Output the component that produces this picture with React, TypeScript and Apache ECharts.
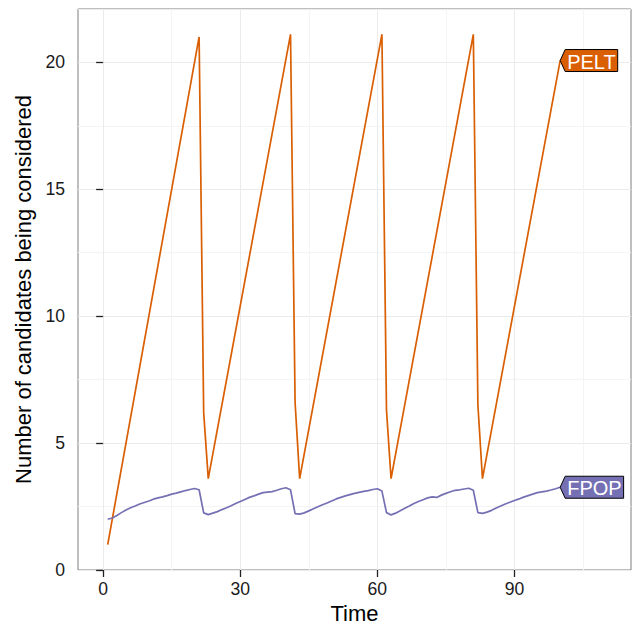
import React, { useEffect, useRef } from "react";
import * as echarts from "echarts";

const FONT = '"Liberation Sans", Arial, Helvetica, sans-serif';

const xTicks = [0, 30, 60, 90];
const xMinorTicks = [15, 45, 75, 105];

const peltTime = [1, 21, 22, 23, 41, 42, 43, 61, 62, 63, 81, 82, 83, 100];
const peltCandidates = [1, 21.0, 6.2, 3.6, 21.1, 6.6, 3.6, 21.1, 6.3, 3.6, 21.1, 6.5, 3.6, 20.07];

const fpopCandidates = [
  2.0, 2.05, 2.15, 2.26, 2.36, 2.45, 2.52, 2.6, 2.66, 2.72, 2.79, 2.84, 2.88, 2.93, 2.99, 3.03, 3.08, 3.13, 3.17, 3.21, 3.16, 2.25, 2.18,
  2.24, 2.3, 2.38, 2.45, 2.53, 2.62, 2.7, 2.78, 2.86, 2.92, 2.99, 3.05, 3.07, 3.09, 3.14, 3.2, 3.24, 3.16, 2.22, 2.2,
  2.25, 2.33, 2.41, 2.49, 2.57, 2.64, 2.72, 2.8, 2.86, 2.92, 2.97, 3.02, 3.06, 3.1, 3.13, 3.17, 3.2, 3.11, 2.26, 2.17,
  2.24, 2.33, 2.43, 2.52, 2.62, 2.7, 2.77, 2.84, 2.88, 2.86, 2.95, 3.02, 3.08, 3.14, 3.16, 3.19, 3.22, 3.14, 2.26, 2.23,
  2.28, 2.35, 2.44, 2.52, 2.6, 2.67, 2.74, 2.8, 2.87, 2.93, 2.99, 3.05, 3.08, 3.11, 3.15, 3.2, 3.26,
];
const fpopTime = fpopCandidates.map((_, i) => i + 1);

const seriesNames = ["PELT", "FPOP"];
const seriesColors = ["#D95F02", "#7570B3"];

function textWidth(text: string, size: number): number {
  const c = document.createElement("canvas");
  const ctx = c.getContext("2d");
  if (!ctx) return text.length * size * 0.6;
  ctx.font = `${size}px ${FONT}`;
  return ctx.measureText(text).width;
}

export default function App() {
  const ref = useRef<HTMLDivElement>(null);

  useEffect(() => {
    if (!ref.current) return;
    const chart = echarts.init(ref.current, null, { renderer: "svg" });

    const labelData = [
      [peltTime[peltTime.length - 1], peltCandidates[peltCandidates.length - 1]],
      [fpopTime[fpopTime.length - 1], fpopCandidates[fpopCandidates.length - 1]],
    ];

    const tickLabel = { color: "#1a1a1a", fontSize: 17.6, fontFamily: FONT };

    chart.setOption({
      animation: false,
      textStyle: { fontFamily: FONT },
      grid: {
        left: 78,
        top: 9,
        right: 3,
        bottom: 56,
        show: true,
        borderColor: "#7F7F7F",
        borderWidth: 1,
        backgroundColor: "#fff",
        containLabel: false,
        outerBoundsMode: "none",
      },
      xAxis: [
        {
          type: "value",
          min: -5.5,
          max: 115.5,
          name: "Time",
          nameLocation: "middle",
          nameGap: 32,
          nameTextStyle: { color: "#000", fontSize: 22, fontFamily: FONT },
          axisLine: { show: false },
          axisTick: { show: true, length: 7, customValues: xTicks, lineStyle: { color: "#222", width: 1.3 } },
          axisLabel: { margin: 10, customValues: xTicks, ...tickLabel },
          splitLine: { show: true, lineStyle: { color: "#EBEBEB", width: 1 } },
        },
        {
          type: "value",
          min: -5.5,
          max: 115.5,
          position: "bottom",
          axisLine: { show: false },
          axisTick: { show: false, customValues: xMinorTicks },
          axisLabel: { show: false, customValues: xMinorTicks },
          splitLine: { show: true, lineStyle: { color: "#F4F4F4", width: 1 } },
        },
      ],
      yAxis: {
        type: "value",
        min: 0,
        max: 22.1,
        interval: 5,
        name: "Number of candidates being considered",
        nameLocation: "middle",
        nameGap: 44,
        nameTextStyle: { color: "#000", fontSize: 22, fontFamily: FONT },
        axisLine: { show: false },
        axisTick: { show: true, length: 7, lineStyle: { color: "#222", width: 1.3 } },
        axisLabel: { margin: 13, ...tickLabel, showMaxLabel: false },
        splitLine: { show: true, lineStyle: { color: "#EBEBEB", width: 1 } },
        minorTick: { show: false, splitNumber: 2 },
        minorSplitLine: { show: true, lineStyle: { color: "#F4F4F4", width: 1 } },
      },
      series: [
        {
          name: "PELT",
          type: "line",
          data: peltTime.map((t, i) => [t, peltCandidates[i]]),
          showSymbol: false,
          symbol: "none",
          lineStyle: { color: seriesColors[0], width: 1.7 },
          z: 3,
        },
        {
          name: "FPOP",
          type: "line",
          data: fpopTime.map((t, i) => [t, fpopCandidates[i]]),
          showSymbol: false,
          symbol: "none",
          lineStyle: { color: seriesColors[1], width: 1.7 },
          z: 3,
        },
        {
          type: "custom",
          coordinateSystem: "cartesian2d",
          clip: false,
          z: 5,
          data: labelData,
          renderItem: (params: any, api: any) => {
            const pt = api.coord([api.value(0), api.value(1)]);
            const i = params.dataIndex;
            const name = seriesNames[i];
            const w = textWidth(name, 20) + 4;
            const h = 22;
            const tip = 5;
            const x0 = pt[0];
            const y0 = pt[1];
            return {
              type: "group",
              children: [
                {
                  type: "polygon",
                  shape: {
                    points: [
                      [x0, y0],
                      [x0 + tip, y0 - h / 2],
                      [x0 + tip + w, y0 - h / 2],
                      [x0 + tip + w, y0 + h / 2],
                      [x0 + tip, y0 + h / 2],
                    ],
                  },
                  style: { fill: seriesColors[i], stroke: "#000", lineWidth: 1 },
                },
                {
                  type: "text",
                  x: x0 + tip + w / 2,
                  y: y0 + 1,
                  style: {
                    text: name,
                    fill: "#fff",
                    fontSize: 20,
                    fontFamily: FONT,
                    align: "center",
                    verticalAlign: "middle",
                  },
                },
              ],
            };
          },
        },
      ],
    });

    return () => chart.dispose();
  }, []);

  return (
    <div
      ref={ref}
      style={{ position: "fixed", left: 0, top: 0, width: 634, height: 626, background: "#fff" }}
    />
  );
}
